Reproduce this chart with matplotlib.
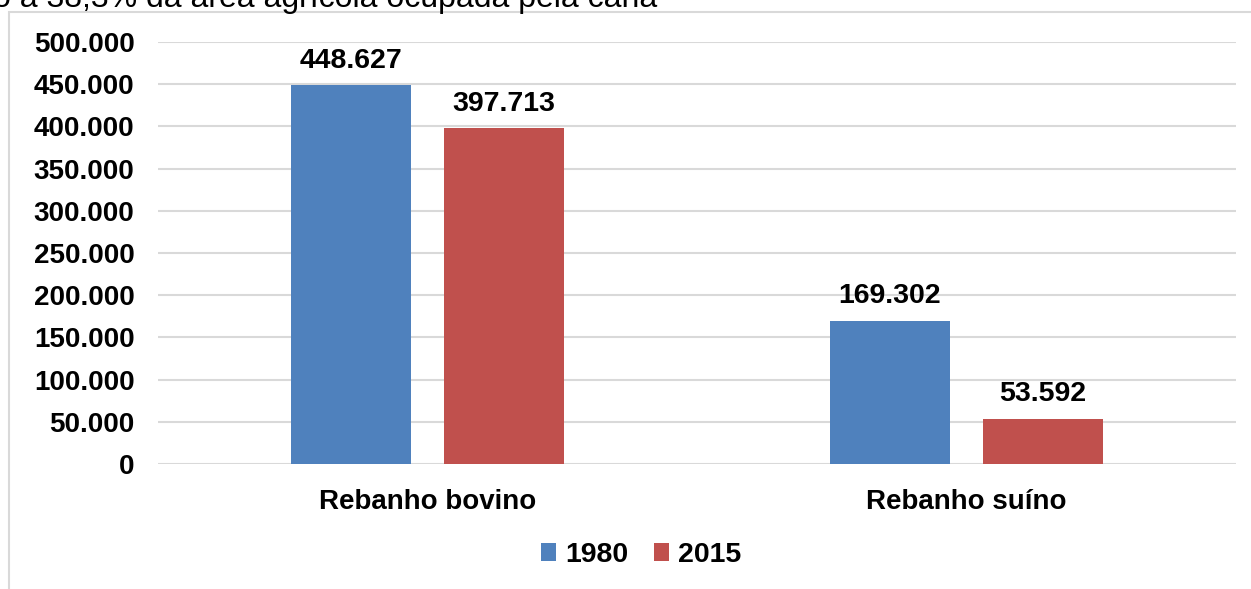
import matplotlib.pyplot as plt
from matplotlib.patches import Rectangle
import numpy as np

plt.rcParams['font.family'] = ['Liberation Sans', 'DejaVu Sans']

categories = ['Rebanho bovino', 'Rebanho suíno']
series_names = ['1980', '2015']
values_1980 = [448627, 169302]
values_2015 = [397713, 53592]
yticks = [0, 50000, 100000, 150000, 200000, 250000, 300000, 350000, 400000, 450000, 500000]

colors = ['#4F81BD', '#C0504D']


def fmt_br(v):
    return f'{v:,.0f}'.replace(',', '.')


fig = plt.figure(figsize=(12.51, 5.89), dpi=100)
ax = fig.add_axes([158 / 1251, 0.2122, 1078 / 1251, 0.7165])

# outer chart frame, cut off on the right and bottom
fig.patches.append(Rectangle((9 / 1251, -0.2), 1.2, 1.2 - 12 / 589,
                             transform=fig.transFigure, fill=False,
                             edgecolor='#d9d9d9', linewidth=1.5))
fig.text(-7 / 1251, 1 - 7 / 589, 'o a 38,3% da área agrícola ocupada pela cana',
         fontsize=23, va='baseline', ha='left')

x = np.arange(len(categories))
w = 0.2226
off = 0.142
for vals, name, c, d in zip([values_1980, values_2015], series_names, colors, [-1, 1]):
    bars = ax.bar(x + d * off, vals, width=w, color=c, label=name, zorder=2)
    for b, v in zip(bars, vals):
        ax.text(b.get_x() + b.get_width() / 2, v + 14000, fmt_br(v),
                ha='center', va='bottom', fontsize=20.5, fontweight='bold')

ax.set_xlim(-0.5, 1.5)
ax.set_ylim(0, 500000)
ax.set_yticks(yticks)
ax.set_yticklabels([fmt_br(t) for t in yticks], fontsize=20, fontweight='bold')
ax.set_xticks(x)
ax.set_xticklabels(categories, fontsize=20, fontweight='bold')
ax.tick_params(axis='y', length=0, pad=17)
ax.tick_params(axis='x', length=0, pad=18)
ax.grid(axis='y', color='#d9d9d9', linewidth=1.5, zorder=0)
ax.set_axisbelow(True)
for s in ax.spines.values():
    s.set_visible(False)

leg = fig.legend(loc='center', bbox_to_anchor=(641 / 1251, 1 - 555 / 589), ncol=2,
                 frameon=False, handlelength=0.55, handleheight=0.55,
                 handletextpad=0.3, columnspacing=0.9,
                 prop={'size': 20.5, 'weight': 'bold'})

fig.savefig('out.png', dpi=100)
